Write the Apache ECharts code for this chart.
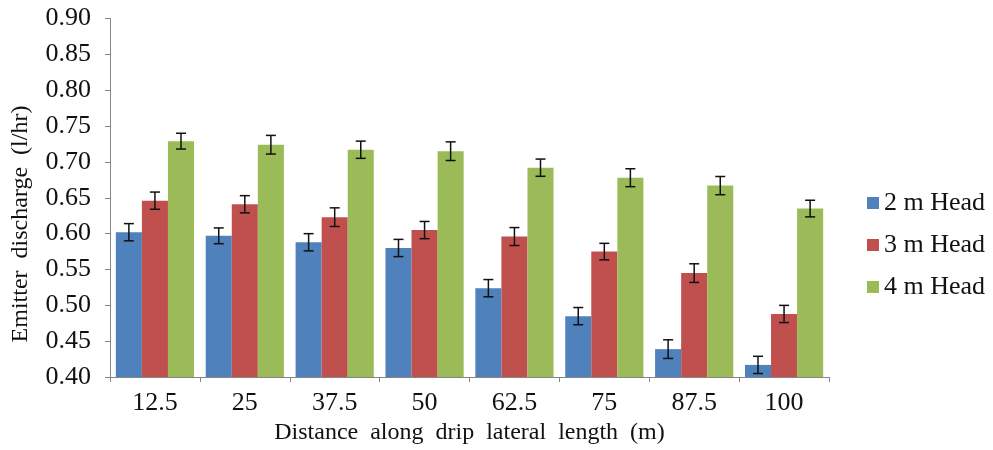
<!DOCTYPE html>
<html><head><meta charset="utf-8">
<script src="https://cdn.jsdelivr.net/npm/echarts@6/dist/echarts.min.js"></script>
<style>html,body{margin:0;padding:0;background:#fff}#c{width:993px;height:450px}</style>
</head><body><div id="c"></div>
<script>
const categories = ['12.5','25','37.5','50','62.5','75','87.5','100'];
const seriesNames = ['2 m Head','3 m Head','4 m Head'];
const head2 = [0.602,0.597,0.588,0.580,0.524,0.485,0.439,0.417];
const head3 = [0.646,0.641,0.623,0.605,0.596,0.575,0.545,0.488];
const head4 = [0.729,0.724,0.717,0.715,0.692,0.678,0.667,0.635];
const err2 = [0.012,0.011,0.012,0.012,0.012,0.012,0.013,0.012];
const err3 = [0.012,0.012,0.013,0.012,0.0125,0.0115,0.013,0.012];
const err4 = [0.011,0.013,0.012,0.013,0.012,0.0125,0.0127,0.0116];
const yTicks = {min:0.40, max:0.90, interval:0.05};

const colors = ['#4F81BD','#C0504D','#9BBB59'];
const values = [head2, head3, head4];
const errs = [err2, err3, err4];
const font = 'Liberation Serif';
const catGap = 0.13;

const chart = echarts.init(document.getElementById('c'), null, {renderer:'canvas'});
const series = [];
values.forEach((v,k)=>{
  series.push({name:seriesNames[k], type:'bar', data:v, barGap:'0%', barCategoryGap:(catGap*100)+'%',
    itemStyle:{color:colors[k]}, z:2});
});
values.forEach((v,k)=>{
  series.push({type:'custom', name:'err'+k, silent:true, z:5,
    data: v.map((val,i)=>[i, val-errs[k][i], val+errs[k][i]]),
    encode:{x:0, y:[1,2]},
    renderItem:(params, api)=>{
      const i = api.value(0);
      const lo = api.coord([i, api.value(1)]);
      const hi = api.coord([i, api.value(2)]);
      const band = api.size([1,0])[0];
      const bw = band*(1-catGap)/3;
      const x = lo[0] + (k-1)*bw;
      const cap = 5;
      const st = {stroke:'#111', lineWidth:1.5};
      return {type:'group', children:[
        {type:'line', shape:{x1:x,y1:lo[1],x2:x,y2:hi[1]}, style:st},
        {type:'line', shape:{x1:x-cap,y1:lo[1],x2:x+cap,y2:lo[1]}, style:st},
        {type:'line', shape:{x1:x-cap,y1:hi[1],x2:x+cap,y2:hi[1]}, style:st}
      ]};
    }
  });
});

chart.setOption({
  animation:false,
  color:colors,
  grid:{left:110, right:164, top:18.5, bottom:72, containLabel:false},
  legend:{data:seriesNames, orient:'vertical', left:862, top:185, itemWidth:12, itemHeight:12, itemGap:16,
    icon:'rect', textStyle:{fontFamily:font, fontSize:26, color:'#111'}},
  xAxis:{type:'category', data:categories,
    name:'Distance  along  drip  lateral  length  (m)', nameLocation:'middle', nameGap:41,
    nameTextStyle:{fontFamily:font, fontSize:24, color:'#111'},
    axisLine:{lineStyle:{color:'#868686', width:1}},
    axisTick:{show:true, alignWithLabel:false, length:5, lineStyle:{color:'#868686'}},
    axisLabel:{fontFamily:font, fontSize:26, color:'#111', margin:13}},
  yAxis:{type:'value', min:yTicks.min, max:yTicks.max, interval:yTicks.interval,
    axisLine:{show:true, lineStyle:{color:'#868686', width:1}},
    axisTick:{show:true, length:5, lineStyle:{color:'#868686'}},
    splitLine:{show:false},
    axisLabel:{fontFamily:font, fontSize:26, color:'#111', margin:19, formatter:v=>v.toFixed(2)}},
  graphic:[{type:'text', x:21, y:224, rotation:Math.PI/2,
    style:{text:'Emitter  discharge  (l/hr)', fontFamily:font, fontSize:24, fill:'#111',
      textAlign:'center', textVerticalAlign:'middle'}}],
  series:series
});
</script></body></html>
